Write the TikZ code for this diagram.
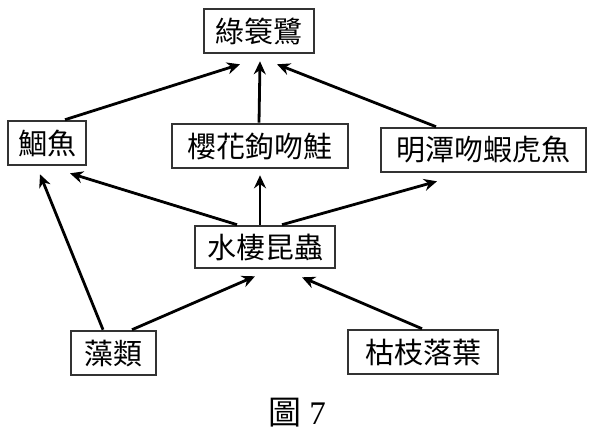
\documentclass[tikz,border=0pt]{standalone}
\usepackage{fontspec}
\setmainfont{Liberation Serif}
\newfontfamily\cjk{Noto Sans CJK TC}
\usetikzlibrary{calc, positioning}
\usetikzlibrary{arrows.meta}

\begin{document}
\begin{tikzpicture}[x=1pt,y=-1pt,
  box/.style={draw=black!80,line width=2.6pt,inner sep=0pt,minimum height=44pt,
    font=\cjk\fontsize{29}{29}\selectfont},
  feed/.style={line width=2.8pt,-{Stealth[length=13pt,width=12pt]}}]
\def\W{593}
\def\H{440}

\useasboundingbox (0,0) rectangle (\W,\H);

\node[box,minimum width=110pt] (heron) at (259,31) {綠簑鷺};
\node[box,minimum width=78pt] (gu) at (47,143) {鯝魚};
\node[box,minimum width=176pt] (salmon) at (260,146) {櫻花鉤吻鮭};
\node[box,minimum width=205pt] (goby) at (483.5,150) {明潭吻蝦虎魚};
\node[box,minimum width=140pt,minimum height=42pt] (insect) at (265,247) {水棲昆蟲};
\node[box,minimum width=85pt] (algae) at (113.5,353) {藻類};
\node[box,minimum width=150pt] (litter) at (423,352) {枯枝落葉};
\node[font=\fontsize{33}{33}\selectfont] (fig) at (297,413) {{\cjk 圖} 7};

\draw[feed] ($(gu.north)+(18,0)$) -- ($(heron.south)+(-19,10)$);
\draw[feed] ($(salmon.north)+(-1,0)$) -- ($(heron.south)+(1,7)$);
\draw[feed] ($(goby.north)+(-47.5,0)$) -- ($(heron.south)+(18,10)$);

\draw[feed] ($(insect.north)+(-28,0)$) -- ($(gu.south)+(23,7)$);
\draw[feed] ($(insect.north)+(-5,0)$) -- ($(salmon.south)+(0,6)$);
\draw[feed] ($(insect.north)+(17,0)$) -- ($(goby.south)+(-46.5,8)$);

\draw[feed] ($(algae.north)+(-10.5,0)$) -- ($(gu.south)+(-7,8)$);
\draw[feed] ($(algae.north)+(18.5,0)$) -- ($(insect.south)+(-10,7)$);
\draw[feed] ($(litter.north)+(-1,0)$) -- ($(insect.south)+(37,8)$);
\end{tikzpicture}
\end{document}
